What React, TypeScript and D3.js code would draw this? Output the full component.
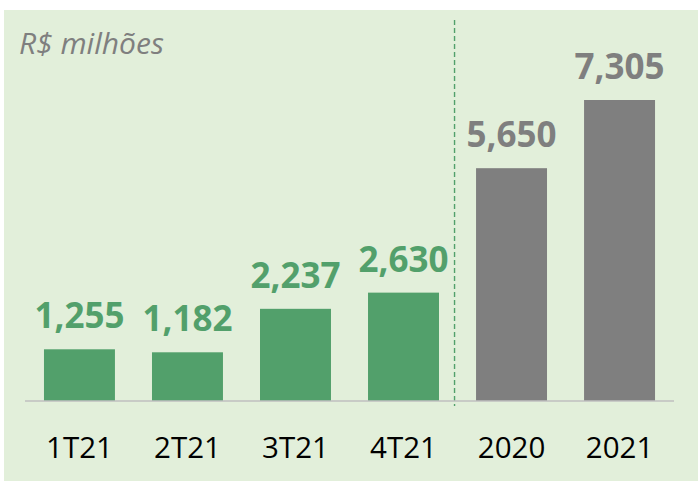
import React from 'react';
import * as d3 from 'd3';

const categories = ['1T21', '2T21', '3T21', '4T21', '2020', '2021'];
const values = [1255, 1182, 2237, 2630, 5650, 7305];
const labels = ['1,255', '1,182', '2,237', '2,630', '5,650', '7,305'];
const groups = ['tri', 'tri', 'tri', 'tri', 'ano', 'ano'];

const W = 698;
const H = 481;
const font = "'Open Sans', 'Noto Sans', sans-serif";

export default function App() {
  const x = d3.scaleBand<string>()
    .domain(categories)
    .range([25.5, 673.5])
    .paddingInner(0.343)
    .paddingOuter(0.171);

  const y = d3.scaleLinear()
    .domain([0, 7305])
    .range([401, 100]);

  const color = d3.scaleOrdinal<string, string>()
    .domain(['tri', 'ano'])
    .range(['#52A06B', '#7F7F7F']);

  // dashed divider a bit left of the first yearly bar
  const divX = x('2020')! - 21.5;

  return (
    <svg width={W} height={H} style={{ position: 'absolute', left: 0, top: 0 }}>
      <rect x={4} y={10} width={W - 4} height={H - 10} fill="#E2EFDA" />
      <text x={19} y={54} fontFamily={font} fontStyle="italic" fontSize={30} fill="#7F7F7F">
        R$ milhões
      </text>
      <line x1={divX} x2={divX} y1={20} y2={406} stroke="#52A06B" strokeWidth={1.4} strokeDasharray="5,3" />
      {categories.map((c, i) => (
        <g key={c}>
          <rect
            x={x(c)}
            y={y(values[i])}
            width={x.bandwidth()}
            height={y(0) - y(values[i])}
            fill={color(groups[i])}
          />
          <text
            x={x(c)! + x.bandwidth() / 2}
            y={y(values[i]) - 21}
            textAnchor="middle"
            fontFamily={font}
            fontWeight="bold"
            fontSize={35}
            fill={color(groups[i])}
          >
            {labels[i]}
          </text>
          <text
            x={x(c)! + x.bandwidth() / 2}
            y={458}
            textAnchor="middle"
            fontFamily={font}
            fontSize={29.5}
            fill="#000"
          >
            {c}
          </text>
        </g>
      ))}
      <line x1={25} x2={674} y1={401} y2={401} stroke="#BFBFBF" strokeWidth={1.5} />
    </svg>
  );
}
